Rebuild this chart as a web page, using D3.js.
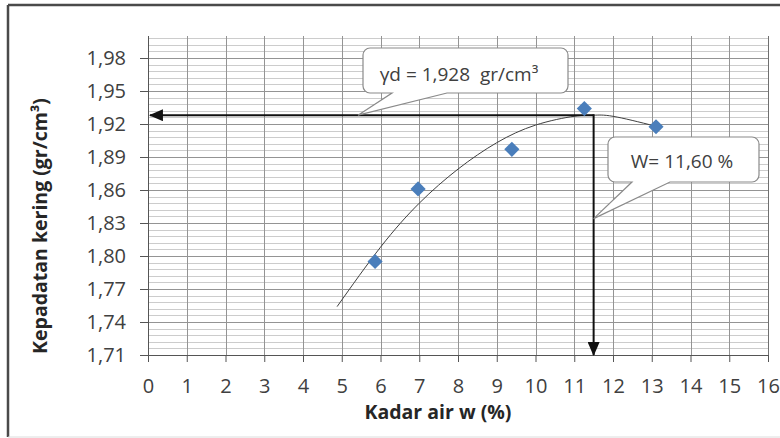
<!DOCTYPE html>
<html>
<head>
<meta charset="utf-8">
<script src="https://cdn.jsdelivr.net/npm/d3@7"></script>
<style>
  body { margin: 0; background: #fff; }
  svg { display: block; font-family: "Open Sans", sans-serif; }
</style>
</head>
<body>
<svg id="chart" width="780" height="438"></svg>
<script>
// data
let xTicks = [0,1,2,3,4,5,6,7,8,9,10,11,12,13,14,15,16]
let yTicks = [1.71,1.74,1.77,1.80,1.83,1.86,1.89,1.92,1.95,1.98]
let waterContent = [5.86, 6.97, 9.39, 11.26, 13.11]
let dryDensity = [1.795, 1.861, 1.897, 1.934, 1.9175]
// trend line
let trendX = [4.88, 6, 7, 8, 9, 10, 11, 11.5, 12, 13.1]
let trendY = [1.754, 1.808, 1.848, 1.879, 1.903, 1.919, 1.927, 1.928, 1.927, 1.918]
let maxDensity = 1.928
let optimumW = 11.5
let labelDensity = "γd = 1,928  gr/cm³"
let labelW = "W= 11,60 %"

const svg = d3.select("#chart")
const x = d3.scaleLinear().domain([0, 16]).range([148, 768])
const y = d3.scaleLinear().domain([1.71, 2.0]).range([355, 36])
const comma = v => d3.format(".2f")(v).replace(".", ",")

// frame
svg.append("line").attr("x1", 8).attr("x2", 8).attr("y1", 5).attr("y2", 437)
  .attr("stroke", "#4a4a4a").attr("stroke-width", 2.5)
svg.append("line").attr("x1", 8).attr("x2", 780).attr("y1", 5).attr("y2", 5)
  .attr("stroke", "#4a4a4a").attr("stroke-width", 2.5)
svg.append("line").attr("x1", 8).attr("x2", 780).attr("y1", 437).attr("y2", 437)
  .attr("stroke", "#dcdcdc").attr("stroke-width", 1)

//BEGIN: GRID
let minor = d3.range(0, 49).map(i => 1.71 + i * 0.006)
svg.append("g").selectAll("line").data(minor).join("line")
  .attr("x1", x(0)).attr("x2", x(16))
  .attr("y1", d => Math.round(y(d)) + 0.5).attr("y2", d => Math.round(y(d)) + 0.5)
  .attr("stroke", "#cccccc")
svg.append("g").selectAll("line").data(yTicks).join("line")
  .attr("x1", x(0)).attr("x2", x(16))
  .attr("y1", d => Math.round(y(d)) + 0.5).attr("y2", d => Math.round(y(d)) + 0.5)
  .attr("stroke", "#949494")
svg.append("g").selectAll("line").data(xTicks.slice(1)).join("line")
  .attr("x1", d => Math.round(x(d)) + 0.5).attr("x2", d => Math.round(x(d)) + 0.5)
  .attr("y1", y(2.0)).attr("y2", y(1.71))
  .attr("stroke", (d, i) => d == 16 ? "#707070" : "#949494")
//END: GRID

//BEGIN: AXES
const yAxis = svg.append("g").attr("transform", `translate(${x(0)},0)`)
  .call(d3.axisLeft(y).tickValues(yTicks).tickFormat(comma).tickSize(8).tickPadding(14).tickSizeOuter(0))
const xAxis = svg.append("g").attr("transform", `translate(0,${y(1.71)})`)
  .call(d3.axisBottom(x).tickValues(xTicks).tickFormat(d3.format("d")).tickSize(7).tickPadding(17).tickSizeOuter(0))
;[yAxis, xAxis].forEach(a => {
  a.select(".domain").attr("stroke", "#555")
  a.selectAll(".tick line").attr("stroke", "#555")
  a.selectAll("text").attr("font-size", 20).attr("fill", "#404040").attr("font-family", "Open Sans")
})
yAxis.select(".domain").attr("d", `M0.5,${y(2.0)}V${y(1.71)}`)

svg.append("text").attr("x", 438).attr("y", 419).attr("text-anchor", "middle")
  .attr("font-size", 19.5).attr("font-weight", "bold").attr("fill", "#262626")
  .text("Kadar air w (%)")
svg.append("text").attr("transform", "translate(47,226) rotate(-90)").attr("text-anchor", "middle")
  .attr("font-size", 19.5).attr("font-weight", "bold").attr("fill", "#262626")
  .text("Kepadatan kering (gr/cm³)")
//END: AXES

// trend line
const line = d3.line().x(d => x(d[0])).y(d => y(d[1])).curve(d3.curveNatural)
svg.append("path").datum(d3.zip(trendX, trendY)).attr("d", line)
  .attr("fill", "none").attr("stroke", "#404040").attr("stroke-width", 1)

//BEGIN: ARROWS
svg.append("defs").append("marker").attr("id", "head")
  .attr("viewBox", "0 0 14 12").attr("refX", 13).attr("refY", 6)
  .attr("markerWidth", 14).attr("markerHeight", 12).attr("markerUnits", "userSpaceOnUse")
  .attr("orient", "auto")
  .append("path").attr("d", "M0,0L14,6L0,12Z").attr("fill", "#111")
svg.append("line").attr("x1", x(optimumW)).attr("y1", y(maxDensity))
  .attr("x2", x(0.05)).attr("y2", y(maxDensity))
  .attr("stroke", "#111").attr("stroke-width", 2).attr("marker-end", "url(#head)")
svg.append("line").attr("x1", x(optimumW)).attr("y1", y(maxDensity) - 1)
  .attr("x2", x(optimumW)).attr("y2", y(1.71))
  .attr("stroke", "#111").attr("stroke-width", 2).attr("marker-end", "url(#head)")
//END: ARROWS

//BEGIN: CALLOUTS
const callout = (box, base, tip, label, tx, ty) => {
  let [x0, y0, x1, y1] = box, r = 7
  let p = d3.path()
  p.moveTo(x0 + r, y0)
  p.lineTo(x1 - r, y0); p.arcTo(x1, y0, x1, y0 + r, r)
  p.lineTo(x1, y1 - r); p.arcTo(x1, y1, x1 - r, y1, r)
  p.lineTo(base[1], y1); p.lineTo(tip[0], tip[1]); p.lineTo(base[0], y1)
  p.lineTo(x0 + r, y1); p.arcTo(x0, y1, x0, y1 - r, r)
  p.lineTo(x0, y0 + r); p.arcTo(x0, y0, x0 + r, y0, r)
  p.closePath()
  svg.append("path").attr("d", p.toString()).attr("fill", "#fff")
    .attr("stroke", "#8a8a8a").attr("stroke-width", 1.2)
  svg.append("text").attr("x", tx).attr("y", ty).attr("text-anchor", "middle")
    .style("white-space", "pre")
    .attr("font-size", 19).attr("fill", "#404040").text(label)
}
callout([363, 48, 568, 93], [392, 447], [x(5.42), y(maxDensity)], labelDensity, 459, 81)
callout([608, 137, 759, 182], [632, 670], [x(optimumW), y(1.834)], labelW, 682, 168)
//END: CALLOUTS

// points
svg.append("g").selectAll("path").data(d3.zip(waterContent, dryDensity)).join("path")
  .attr("d", d3.symbol(d3.symbolSquare, 115))
  .attr("transform", d => `translate(${x(d[0])},${y(d[1])}) rotate(45)`)
  .attr("fill", "#4a7ebb")
</script>
</body>
</html>
